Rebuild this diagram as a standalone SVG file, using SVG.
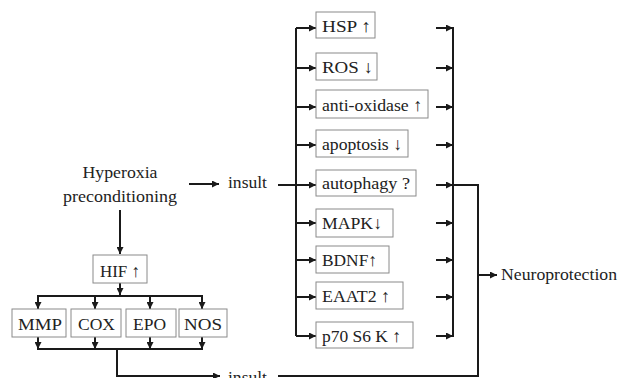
<svg xmlns="http://www.w3.org/2000/svg" width="619" height="378" viewBox="0 0 619 378">
  <style>
    .box { fill: #ffffff; stroke: #8a8a8a; stroke-width: 1; }
    text { font-family: 'Liberation Serif', 'Times New Roman', 'DejaVu Serif', serif; font-size: 17.5px; fill: #222222; }
    .w { fill: none; stroke: #1a1a1a; stroke-width: 2; }
    .a { fill: none; stroke: #1a1a1a; stroke-width: 2; marker-end: url(#ah); }
  </style>
  <defs>
    <marker id="ah" markerUnits="userSpaceOnUse" markerWidth="8" markerHeight="7" refX="7" refY="3.5" orient="auto">
      <path d="M0,0 L7,3.5 L0,7 z" fill="#1a1a1a"/>
    </marker>
  </defs>
  <rect width="619" height="378" fill="#ffffff"/>

  <!-- connectors -->
  <g id="connectors">
    <!-- precondition to insult and HIF -->
    <line class="a" x1="189" y1="184" x2="219" y2="184"/>
    <line class="a" x1="120" y1="210" x2="120" y2="254"/>
    <line class="a" x1="120" y1="283" x2="120" y2="295"/>
    <!-- HIF fan-out -->
    <line class="w" x1="37" y1="296" x2="203" y2="296"/>
    <line class="a" x1="38" y1="296" x2="38" y2="309"/>
    <line class="a" x1="95" y1="296" x2="95" y2="309"/>
    <line class="a" x1="150" y1="296" x2="150" y2="309"/>
    <line class="a" x1="202" y1="296" x2="202" y2="309"/>
    <!-- fan-in below effectors -->
    <line class="a" x1="38" y1="337" x2="38" y2="349"/>
    <line class="a" x1="95" y1="337" x2="95" y2="349"/>
    <line class="a" x1="150" y1="337" x2="150" y2="349"/>
    <line class="a" x1="202" y1="337" x2="202" y2="349"/>
    <line class="w" x1="37" y1="349" x2="203" y2="349"/>
    <polyline class="a" points="117,349 117,376 220,376"/>
    <!-- second insult route up to the outcome bus -->
    <polyline class="w" points="278,376 478,376 478,185 453,185"/>
    <!-- first insult into the left bus -->
    <line class="w" x1="278" y1="185" x2="297" y2="185"/>
    <line class="w" x1="296" y1="28" x2="296" y2="336"/>
    <line class="a" x1="296" y1="28" x2="316" y2="28"/>
    <line class="a" x1="296" y1="68" x2="316" y2="68"/>
    <line class="a" x1="296" y1="107" x2="316" y2="107"/>
    <line class="a" x1="296" y1="145" x2="316" y2="145"/>
    <line class="a" x1="296" y1="185" x2="316" y2="185"/>
    <line class="a" x1="296" y1="223" x2="316" y2="223"/>
    <line class="a" x1="296" y1="260" x2="316" y2="260"/>
    <line class="a" x1="296" y1="297" x2="316" y2="297"/>
    <line class="a" x1="296" y1="336" x2="316" y2="336"/>
    <!-- right bus -->
    <line class="w" x1="453" y1="27" x2="453" y2="337"/>
    <line class="a" x1="436" y1="28" x2="453" y2="28"/>
    <line class="a" x1="436" y1="68" x2="453" y2="68"/>
    <line class="a" x1="436" y1="107" x2="453" y2="107"/>
    <line class="a" x1="436" y1="145" x2="453" y2="145"/>
    <line class="a" x1="436" y1="185" x2="453" y2="185"/>
    <line class="a" x1="436" y1="223" x2="453" y2="223"/>
    <line class="a" x1="436" y1="260" x2="453" y2="260"/>
    <line class="a" x1="436" y1="297" x2="453" y2="297"/>
    <line class="a" x1="436" y1="336" x2="453" y2="336"/>
    <line class="a" x1="478" y1="275" x2="497" y2="275"/>
  </g>

  <!-- free labels -->
  <g id="hyperoxia">
    <text x="120" y="178" text-anchor="middle" textLength="75" lengthAdjust="spacingAndGlyphs">Hyperoxia</text>
    <text x="120" y="202" text-anchor="middle" textLength="114" lengthAdjust="spacingAndGlyphs">preconditioning</text>
  </g>
  <g id="insult1"><text x="228" y="188" textLength="39" lengthAdjust="spacingAndGlyphs">insult</text></g>
  <g id="insult2"><text x="228" y="383" textLength="39" lengthAdjust="spacingAndGlyphs">insult</text></g>
  <g id="neuroprotection"><text x="501" y="280" textLength="116" lengthAdjust="spacingAndGlyphs">Neuroprotection</text></g>

  <!-- HIF branch -->
  <g id="hif"><rect class="box" x="93" y="255" width="54" height="28"/><text x="100" y="277" textLength="40" lengthAdjust="spacingAndGlyphs">HIF ↑</text></g>
  <g id="mmp"><rect class="box" x="12" y="309" width="54" height="28"/><text x="18" y="330" textLength="44" lengthAdjust="spacingAndGlyphs">MMP</text></g>
  <g id="cox"><rect class="box" x="71" y="309" width="50" height="28"/><text x="78" y="330" textLength="37" lengthAdjust="spacingAndGlyphs">COX</text></g>
  <g id="epo"><rect class="box" x="126" y="309" width="50" height="28"/><text x="133" y="330" textLength="33" lengthAdjust="spacingAndGlyphs">EPO</text></g>
  <g id="nos"><rect class="box" x="179" y="309" width="48" height="28"/><text x="184" y="330" textLength="38" lengthAdjust="spacingAndGlyphs">NOS</text></g>

  <!-- mediators -->
  <g id="hsp"><rect class="box" x="316" y="12" width="59" height="26"/><text x="322" y="32" textLength="49" lengthAdjust="spacingAndGlyphs">HSP ↑</text></g>
  <g id="ros"><rect class="box" x="316" y="53" width="61" height="27"/><text x="322" y="73" textLength="51" lengthAdjust="spacingAndGlyphs">ROS ↓</text></g>
  <g id="antioxidase"><rect class="box" x="316" y="90" width="112" height="28"/><text x="322" y="111" textLength="100" lengthAdjust="spacingAndGlyphs">anti-oxidase ↑</text></g>
  <g id="apoptosis"><rect class="box" x="316" y="130" width="92" height="27"/><text x="322" y="150" textLength="80" lengthAdjust="spacingAndGlyphs">apoptosis ↓</text></g>
  <g id="autophagy"><rect class="box" x="316" y="170" width="100" height="26"/><text x="322" y="189" textLength="88" lengthAdjust="spacingAndGlyphs">autophagy ?</text></g>
  <g id="mapk"><rect class="box" x="316" y="209" width="77" height="28"/><text x="322" y="229" textLength="60" lengthAdjust="spacingAndGlyphs">MAPK↓</text></g>
  <g id="bdnf"><rect class="box" x="316" y="246" width="73" height="27"/><text x="322" y="266" textLength="55" lengthAdjust="spacingAndGlyphs">BDNF↑</text></g>
  <g id="eaat2"><rect class="box" x="316" y="282" width="87" height="27"/><text x="322" y="302" textLength="68" lengthAdjust="spacingAndGlyphs">EAAT2 ↑</text></g>
  <g id="p70s6k"><rect class="box" x="316" y="322" width="97" height="26"/><text x="322" y="342" textLength="79" lengthAdjust="spacingAndGlyphs">p70 S6 K ↑</text></g>
</svg>
